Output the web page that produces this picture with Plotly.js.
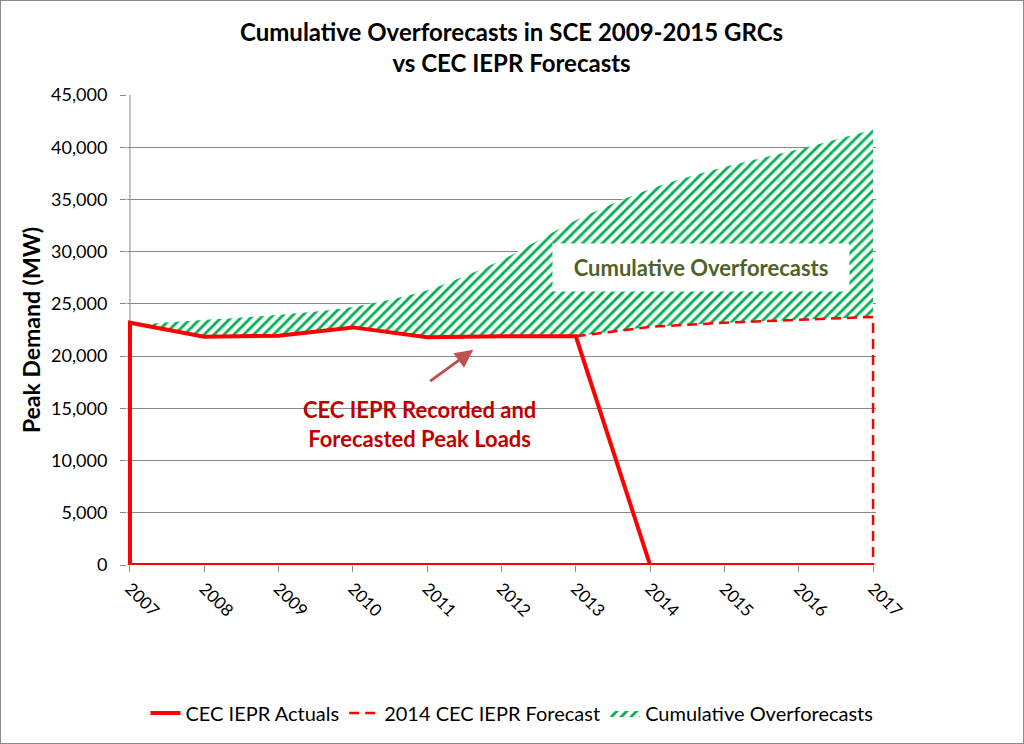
<!DOCTYPE html>
<html><head><meta charset="utf-8">
<script src="https://cdn.plot.ly/plotly-3.0.1.min.js"></script>
<style>html,body{margin:0;padding:0;background:#fff}#chart{width:1024px;height:744px;box-sizing:border-box;border:1px solid #8a8a8a}</style>
</head><body><div id="chart"></div>
<script>
const years = [2007,2008,2009,2010,2011,2012,2013,2014,2015,2016,2017];
const actuals = [23200,21850,21950,22750,21800,21900,21900,0,0,0,0];
const forecastYears = [2013,2014,2015,2016,2017];
const forecast = [21900,22800,23200,23450,23750];
const cumulativeTop = [23000,23450,23950,24700,26300,29200,33000,36000,38100,39800,41700];
const tickLabels = years.map(String);

// lower boundary of overforecast band: actuals through 2013, forecast afterwards
const base = years.map((y,i) => {
  const k = forecastYears.indexOf(y);
  return (y > 2013 && k >= 0) ? forecast[k] : actuals[i];
});

const font = "Lato, 'Open Sans', sans-serif";
const traces = [
  {x: years, y: base, mode:'lines', line:{width:0, color:'rgba(0,0,0,0)'}, showlegend:false, hoverinfo:'skip'},
  {x: years, y: cumulativeTop, mode:'lines', name:'Cumulative Overforecasts', fill:'tonexty',
   line:{width:0, shape:'spline', smoothing:0.8, color:'#00B050'}, fillcolor:'rgba(0,0,0,0)',
   fillpattern:{shape:'/', fgcolor:'#00B050', bgcolor:'#ffffff', size:7, solidity:0.4}, legendrank:3},
  {x: [years[0]].concat(years, [years[0]]), y: [0].concat(actuals, [0]), mode:'lines', name:'CEC IEPR Actuals',
   line:{color:'#FF0000', width:4}, legendrank:1},
  {x: forecastYears.concat([forecastYears[forecastYears.length-1]]), y: forecast.concat([0]), mode:'lines',
   name:'2014 CEC IEPR Forecast', line:{color:'#FF0000', width:2.5, dash:'10px,6px'}, legendrank:2}
];

const layout = {
  width:1022, height:742,
  margin:{l:126, r:147, t:94, b:178, autoexpand:false},
  paper_bgcolor:'#fff', plot_bgcolor:'#fff',
  font:{family:font, color:'#000'},
  xaxis:{range:[2006.96,2017.04], tickvals:years, ticktext:tickLabels, tickangle:45, showgrid:false,
    showline:false, ticks:'outside', ticklen:6, tickcolor:'#878787',
    tickfont:{size:17, family:font}, zeroline:false},
  yaxis:{range:[0,45000], dtick:5000, tickformat:',d', showgrid:true, gridcolor:'#878787', gridwidth:1,
    showline:false, ticks:'outside', ticklen:6, tickcolor:'#878787', zeroline:false, ticklabelstandoff:9,
    tickfont:{size:18, family:font}, title:{text:'<b>Peak Demand (MW)</b>', font:{size:23, family:font}, standoff:4}},
  shapes:[
    {type:'line', xref:'x', yref:'paper', x0:2007, x1:2007, y0:0, y1:1, line:{color:'#878787', width:1}, layer:'below'},
    {type:'line', xref:'paper', yref:'y', x0:0, x1:1, y0:0, y1:0, line:{color:'#878787', width:1}, layer:'below'}
  ],
  legend:{orientation:'h', x:0.514, xanchor:'center', y:-0.315, yanchor:'middle', font:{size:20, family:font}, traceorder:'normal', itemwidth:30},
  annotations:[
    {x:0.514, y:1.102, xref:'paper', yref:'paper', text:'<b>Cumulative Overforecasts in SCE 2009-2015 GRCs<br>vs CEC IEPR Forecasts</b>',
     showarrow:false, font:{size:24, family:font, color:'#000'}, yanchor:'middle', xanchor:'center', align:'center'},
    {x:2014.68, y:28500, xref:'x', yref:'y', text:'<b>&nbsp;&nbsp;Cumulative Overforecasts&nbsp;&nbsp;</b>', showarrow:false,
     font:{size:22, color:'#4F6228', family:font}, bgcolor:'#ffffff', borderpad:10},
    {x:2010.9, y:16400, xref:'x', yref:'y', text:'<b>CEC IEPR Recorded and<br>Forecasted Peak Loads</b>', showarrow:false,
     font:{size:22, color:'#C00000', family:font}, align:'center', yanchor:'top'},
    {x:2011.62, y:20600, ax:2011.02, ay:17500, xref:'x', yref:'y', axref:'x', ayref:'y', text:'', showarrow:true,
     arrowhead:2, arrowsize:1.2, arrowwidth:3, arrowcolor:'#C0504D'}
  ]
};
Plotly.newPlot('chart', traces, layout, {displayModeBar:false, staticPlot:true});
</script></body></html>
